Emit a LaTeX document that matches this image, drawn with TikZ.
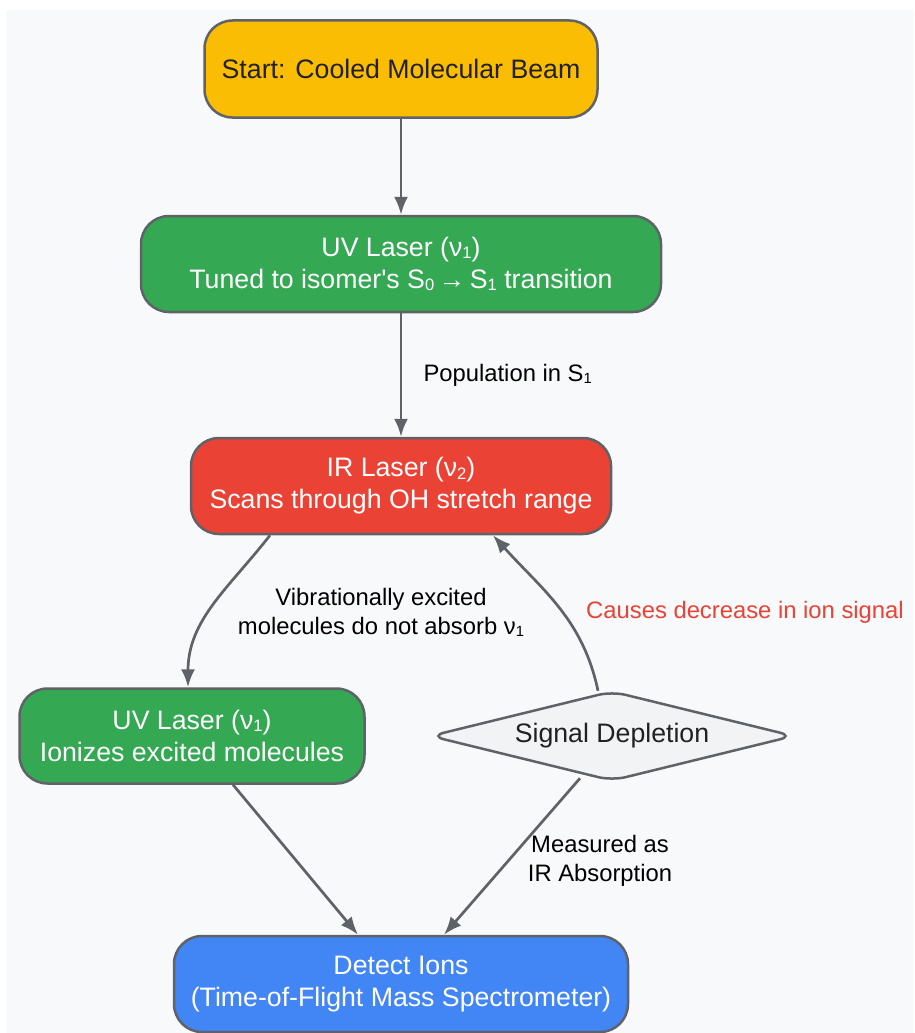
\documentclass[tikz,border=0pt]{standalone}
\usepackage{fontspec}
\setmainfont{Liberation Sans}
\usetikzlibrary{positioning,shapes.geometric,arrows.meta}

\definecolor{startyellow}{HTML}{FBBC04}
\definecolor{uvgreen}{HTML}{34A853}
\definecolor{irred}{HTML}{EA4335}
\definecolor{detblue}{HTML}{4285F4}
\definecolor{linegray}{HTML}{5F6368}
\definecolor{bggray}{HTML}{F8F9FA}
\definecolor{diafill}{HTML}{F1F3F4}
\definecolor{darktext}{HTML}{202124}

\newcommand{\lowidx}[1]{\raisebox{-0.08em}{\scalebox{0.62}{#1}}}

\tikzset{
  box/.style={draw=linegray, line width=2.5pt, rounded corners=28pt, align=center,
    inner sep=0pt, font=\fontsize{26.7}{32}\selectfont},
  flow/.style={draw=linegray, line width=2.7pt, -{Latex[length=18pt,width=14pt]}},
  note/.style={font=\fontsize{23.8}{29}\selectfont, align=center, text=black}
}

\begin{document}
\begin{tikzpicture}[x=1pt,y=1pt]
  \useasboundingbox (0,0) rectangle (914,-1033);
  \fill[bggray] (6,-10) rectangle (914,-1033);

  % Boxes
  \node[box, fill=startyellow, text=darktext, minimum width=393pt, minimum height=97pt]
    (start) at (401,-69) {Start: Cooled Molecular Beam};
  \node[box, fill=uvgreen, text=white, minimum width=520pt, minimum height=96pt]
    (uvone) at (401,-264) {UV Laser (ν\lowidx{1})\\Tuned to isomer\textquotesingle s S\lowidx{0}\,→\,S\lowidx{1} transition};
  \node[box, fill=irred, text=white, minimum width=420pt, minimum height=96pt]
    (ir) at (401,-486) {IR Laser (ν\lowidx{2})\\Scans through OH stretch range};
  \node[box, fill=uvgreen, text=white, minimum width=345pt, minimum height=95pt]
    (uvtwo) at (192,-736) {UV Laser (ν\lowidx{1})\\Ionizes excited molecules};
  \node[diamond, aspect=4.1, draw=linegray, line width=2.5pt, fill=diafill, text=darktext,
    minimum width=364pt, minimum height=90pt, inner sep=0pt, rounded corners=14pt,
    font=\fontsize{26.7}{32}\selectfont]
    (depl) at (612,-736) {Signal Depletion};
  \node[box, fill=detblue, text=white, minimum width=454pt, minimum height=96pt]
    (detect) at (401,-984) {Detect Ions\\(Time-of-Flight Mass Spectrometer)};

  % Labels
  \node[note, anchor=west] (poplab) at (420,-375) {Population in S\lowidx{1}};
  \node[note] (viblab) at (381,-612) {Vibrationally excited\\molecules do not absorb ν\lowidx{1}};
  \node[note, text=irred] (redlab) at (745,-612) {Causes decrease in ion signal};
  \node[note] (measlab) at (600,-861) {Measured as\\IR Absorption};

  % Connectors
  \draw[flow] (start) -- (uvone);
  \draw[flow] (uvone) -- (ir);
  \draw[flow] ([xshift=-131pt]ir.south) to[out=-128, in=90] ([xshift=-4pt]uvtwo.north);
  \draw[flow] ([shift={(-14pt,-1pt)}]depl.north) to[out=102, in=-48] ([xshift=92pt]ir.south);
  \draw[flow] ([xshift=41pt]uvtwo.south) -- ([xshift=-43pt]detect.north);
  \draw[flow] ([shift={(-32pt,4pt)}]depl.south) -- ([xshift=43pt]detect.north);
\end{tikzpicture}
\end{document}
